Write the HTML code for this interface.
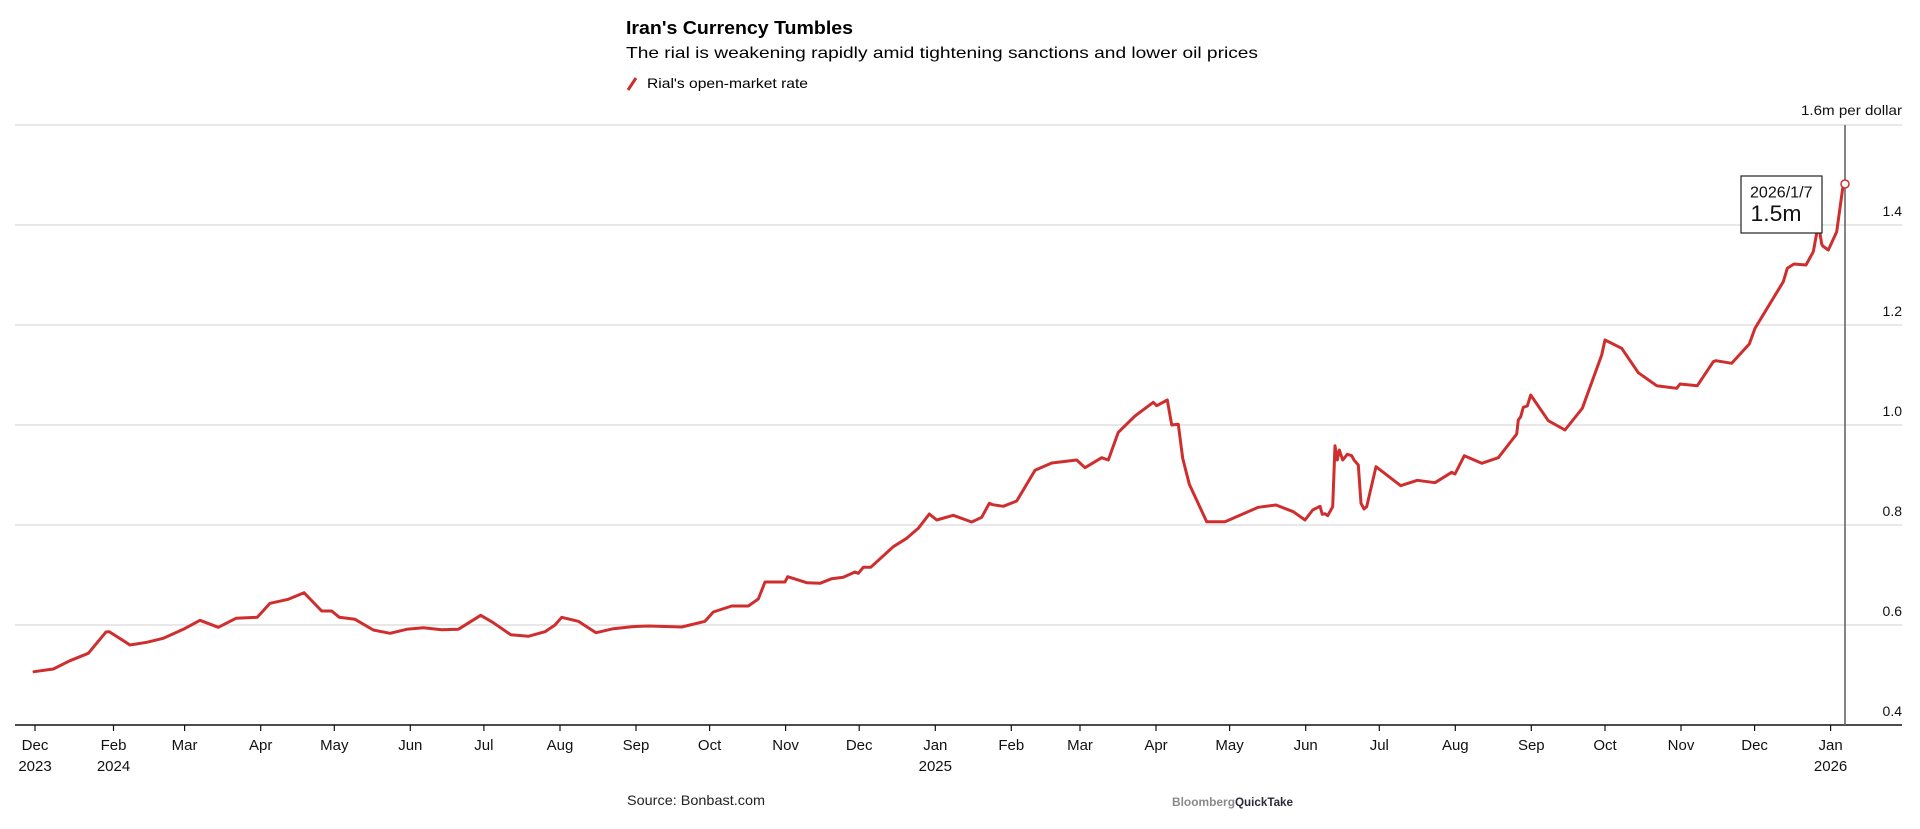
<!DOCTYPE html>
<html>
<head>
<meta charset="utf-8">
<style>
  html, body { margin:0; padding:0; background:#ffffff; }
  body { width:1920px; height:829px; overflow:hidden; }
  svg { display:block; }
  text { font-family:"Liberation Sans", Arial, sans-serif; }
</style>
</head>
<body>
<svg width="1920" height="829" viewBox="0 0 1920 829" xmlns="http://www.w3.org/2000/svg">
  <!-- Header -->
  <text x="626" y="34" font-size="18" font-weight="bold" fill="#000" textLength="227" lengthAdjust="spacingAndGlyphs">Iran's Currency Tumbles</text>
  <text x="626" y="58" font-size="16" fill="#000" textLength="632" lengthAdjust="spacingAndGlyphs">The rial is weakening rapidly amid tightening sanctions and lower oil prices</text>
  <line x1="628" y1="90" x2="636" y2="78" stroke="#cf2e2e" stroke-width="3"/>
  <text x="647" y="88" font-size="14" fill="#000" textLength="161" lengthAdjust="spacingAndGlyphs">Rial's open-market rate</text>

  <!-- Grid -->
  <g stroke="#dadada" stroke-width="1.2">
    <line x1="15" y1="125" x2="1902" y2="125"/>
    <line x1="15" y1="225" x2="1902" y2="225"/>
    <line x1="15" y1="325" x2="1902" y2="325"/>
    <line x1="15" y1="425" x2="1902" y2="425"/>
    <line x1="15" y1="525" x2="1902" y2="525"/>
    <line x1="15" y1="625" x2="1902" y2="625"/>
  </g>

  <!-- Y labels -->
  <g font-size="14" fill="#111" text-anchor="end">
    <text x="1902" y="115" textLength="101" lengthAdjust="spacingAndGlyphs">1.6m per dollar</text>
    <text x="1902" y="216">1.4</text>
    <text x="1902" y="316">1.2</text>
    <text x="1902" y="416">1.0</text>
    <text x="1902" y="516">0.8</text>
    <text x="1902" y="616">0.6</text>
    <text x="1902" y="716">0.4</text>
  </g>

  <!-- X axis -->
  <line x1="15" y1="725" x2="1902" y2="725" stroke="#111" stroke-width="1.5"/>
  <g stroke="#111" stroke-width="1.2">
    <line x1="35" y1="725" x2="35" y2="731"/>
    <line x1="113.5" y1="725" x2="113.5" y2="731"/>
    <line x1="184.6" y1="725" x2="184.6" y2="731"/>
    <line x1="260.7" y1="725" x2="260.7" y2="731"/>
    <line x1="334.3" y1="725" x2="334.3" y2="731"/>
    <line x1="410.3" y1="725" x2="410.3" y2="731"/>
    <line x1="483.9" y1="725" x2="483.9" y2="731"/>
    <line x1="560" y1="725" x2="560" y2="731"/>
    <line x1="636" y1="725" x2="636" y2="731"/>
    <line x1="709.6" y1="725" x2="709.6" y2="731"/>
    <line x1="785.6" y1="725" x2="785.6" y2="731"/>
    <line x1="859.2" y1="725" x2="859.2" y2="731"/>
    <line x1="935.3" y1="725" x2="935.3" y2="731"/>
    <line x1="1011.3" y1="725" x2="1011.3" y2="731"/>
    <line x1="1080" y1="725" x2="1080" y2="731"/>
    <line x1="1156" y1="725" x2="1156" y2="731"/>
    <line x1="1229.6" y1="725" x2="1229.6" y2="731"/>
    <line x1="1305.7" y1="725" x2="1305.7" y2="731"/>
    <line x1="1379.3" y1="725" x2="1379.3" y2="731"/>
    <line x1="1455.3" y1="725" x2="1455.3" y2="731"/>
    <line x1="1531.3" y1="725" x2="1531.3" y2="731"/>
    <line x1="1605" y1="725" x2="1605" y2="731"/>
    <line x1="1681" y1="725" x2="1681" y2="731"/>
    <line x1="1754.6" y1="725" x2="1754.6" y2="731"/>
    <line x1="1830.6" y1="725" x2="1830.6" y2="731"/>
  </g>
  <g font-size="15" fill="#111" text-anchor="middle">
    <text x="35" y="750">Dec</text><text x="35" y="771">2023</text>
    <text x="113.5" y="750">Feb</text><text x="113.5" y="771">2024</text>
    <text x="184.6" y="750">Mar</text>
    <text x="260.7" y="750">Apr</text>
    <text x="334.3" y="750">May</text>
    <text x="410.3" y="750">Jun</text>
    <text x="483.9" y="750">Jul</text>
    <text x="560" y="750">Aug</text>
    <text x="636" y="750">Sep</text>
    <text x="709.6" y="750">Oct</text>
    <text x="785.6" y="750">Nov</text>
    <text x="859.2" y="750">Dec</text>
    <text x="935.3" y="750">Jan</text><text x="935.3" y="771">2025</text>
    <text x="1011.3" y="750">Feb</text>
    <text x="1080" y="750">Mar</text>
    <text x="1156" y="750">Apr</text>
    <text x="1229.6" y="750">May</text>
    <text x="1305.7" y="750">Jun</text>
    <text x="1379.3" y="750">Jul</text>
    <text x="1455.3" y="750">Aug</text>
    <text x="1531.3" y="750">Sep</text>
    <text x="1605" y="750">Oct</text>
    <text x="1681" y="750">Nov</text>
    <text x="1754.6" y="750">Dec</text>
    <text x="1830.6" y="750">Jan</text><text x="1830.6" y="771">2026</text>
  </g>

  <!-- Vertical marker line -->
  <line x1="1845" y1="125" x2="1845" y2="725" stroke="#666" stroke-width="1.6"/>

  <!-- Series -->
  <polyline fill="none" stroke="#cf2e2e" stroke-width="3" stroke-linejoin="round" stroke-linecap="round" points="
34,671.7 53.3,669 70,660.7 88.3,653.3 106,632 109.3,631.7 130,645 146.7,642.3 163.3,638.3 183.3,629.3
200,620.3 218.3,627.3 236,618.3 257.3,617.3 270,603.3 288.3,599.3 304,592.7 321.7,611 331.7,611 339.3,617.3
355,619.3 373.3,630 390,633.3 406.7,629.3 423.3,627.7 441.7,629.7 458.3,629.3 480.7,615.3 493.3,622.7 510.7,634.7
528.3,636.3 545,631.7 555,625 561.7,617.3 578.3,621.3 596,632.7 613.3,628.7 631.7,626.7 648.3,626 681.7,627
705,621.3 713.3,612 731.7,606 748.3,606 758.3,599 765,582 785,582 787.7,576.7 806.7,582.7 820,583.3
831.7,578.7 843.3,577.3 855,572 858.3,573.3 863.3,567.3 870.7,567.3 893.3,546.7 906.7,538.3 918.3,528.3 929.3,514
936.7,520 953.3,515.3 971.7,522 981.7,517.3 989.3,503.3 992.7,504.7 1003.3,506.3 1016.7,501 1035,470.3 1051.7,463
1076.7,460 1085,467.7 1101.7,457.7 1108.3,460 1118.3,432.3 1135,416 1153.3,402.3 1156.7,405.7 1167.3,400 1171.7,425
1178.3,424.3 1182.7,458.3 1189.3,484.3 1206.7,521.7 1225,521.7 1258.3,507.3 1276,505 1293.3,511.7 1305,520 1312.7,510
1320,506.3 1322.3,514.3 1325,513.7 1327.7,515.7 1332.7,506.7 1335,445.7 1337.3,460 1339.3,450 1342.7,460 1347.3,454.3
1351.7,455.7 1354,460 1358.3,465 1361,503.3 1364,509 1366.7,506.7 1376,466.7 1400.7,485.7 1417.3,480.3 1435,482.7
1451.7,472.3 1455,474 1464.3,455.7 1481.7,463.3 1498.3,457.7 1516.7,434 1518.3,420 1520.7,416.7 1523.3,407.3 1527.3,406
1530.7,395 1548.3,420.7 1565,430 1582.3,408.3 1601.7,355 1605,340 1621.7,348.3 1638.3,372.7 1656.7,385.7 1676.7,388.3
1680,384 1697.3,385.7 1713.3,361.7 1716,360.7 1731.7,363.3 1749.3,344 1755,328.3 1783.3,281.7 1787.3,268.3 1794,264
1806,265 1813.3,251.7 1816.7,233.3 1818.5,224 1821.7,244 1822.7,246 1828.3,250 1836.7,231.7 1842.7,188.3 1845,184"/>

  <!-- End dot -->
  <circle cx="1845" cy="184" r="4" fill="#fff" stroke="#cf2e2e" stroke-width="1.5"/>

  <!-- Tooltip -->
  <rect x="1741" y="176" width="81" height="57" fill="#fff" stroke="#222" stroke-width="1.2"/>
  <text x="1750" y="197.5" font-size="16" fill="#111" textLength="62.5" lengthAdjust="spacingAndGlyphs">2026/1/7</text>
  <text x="1750.5" y="221" font-size="22" fill="#111" textLength="51" lengthAdjust="spacingAndGlyphs">1.5m</text>

  <!-- Footer -->
  <text x="627" y="805" font-size="14" fill="#222" textLength="138" lengthAdjust="spacingAndGlyphs">Source: Bonbast.com</text>
  <text x="1172" y="806" font-size="12" font-weight="bold" fill="#8a8a8a" textLength="63" lengthAdjust="spacingAndGlyphs">Bloomberg</text>
  <text x="1235" y="806" font-size="12" font-weight="bold" fill="#2b2b3a" textLength="58" lengthAdjust="spacingAndGlyphs">QuickTake</text>
</svg>
</body>
</html>
